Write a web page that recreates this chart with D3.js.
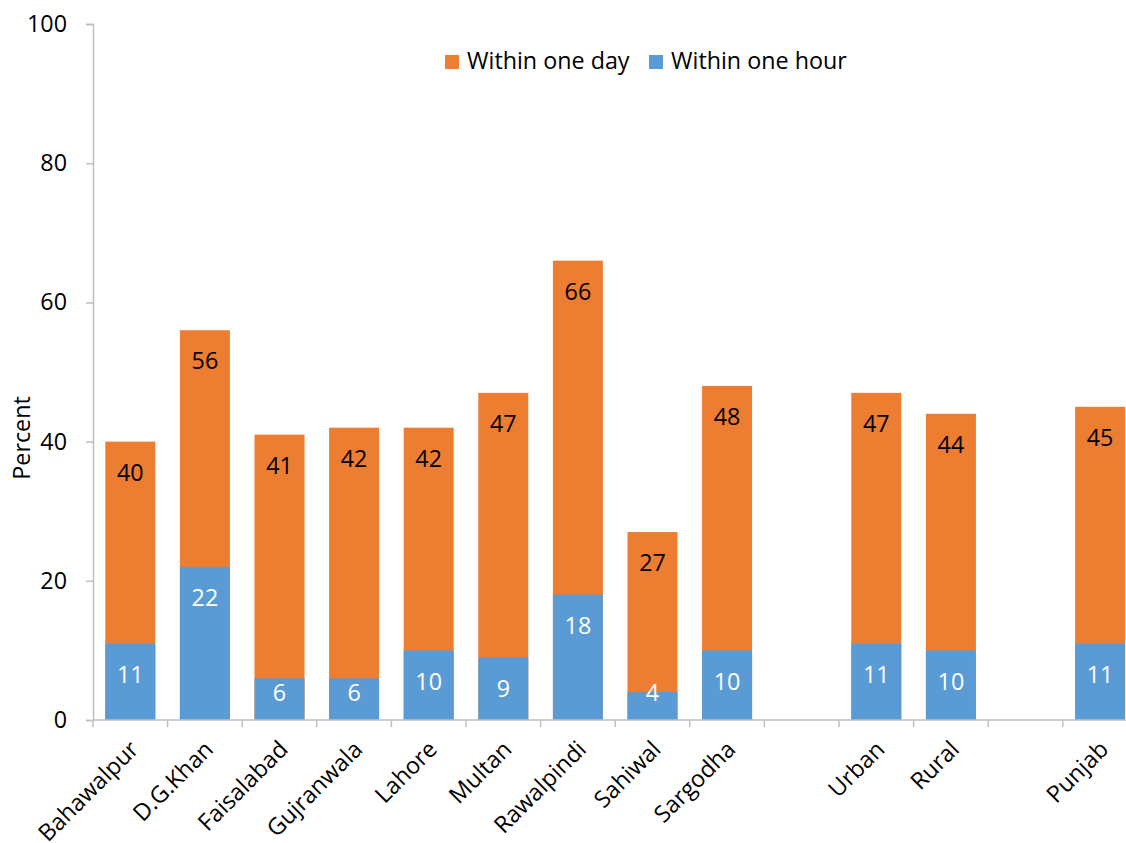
<!DOCTYPE html>
<html>
<head>
<meta charset="utf-8">
<script src="https://cdn.jsdelivr.net/npm/d3@7"></script>
<style>
  html, body { margin: 0; padding: 0; background: #fff; }
  svg { display: block; font-family: "Open Sans", Lato, sans-serif; }
</style>
</head>
<body>
<svg id="chart" width="1126" height="843"></svg>
<script>
// Districts, then Urban/Rural, then the provincial total
const categories = ["Bahawalpur", "D.G.Khan", "Faisalabad", "Gujranwala", "Lahore", "Multan",
                    "Rawalpindi", "Sahiwal", "Sargodha", "Urban", "Rural", "Punjab"];
const withinOneDay  = [40, 56, 41, 42, 42, 47, 66, 27, 48, 47, 44, 45];
const withinOneHour = [11, 22, 6, 6, 10, 9, 18, 4, 10, 11, 10, 11];
const yTicks = [0, 20, 40, 60, 80, 100];
const seriesNames = ["Within one day", "Within one hour"];
const colors = { day: "#ED7D31", hour: "#5B9BD5", axis: "#BFBFBF" };

// empty slots separate the district group, the urban/rural pair and the total
const slots = [...categories.slice(0, 9), "_gap1", "Urban", "Rural", "_gap2", "Punjab"];

const data = categories.map((c, i) => ({ name: c, day: withinOneDay[i], hour: withinOneHour[i] }));

const FONT = 23.3;
const svg = d3.select("#chart");
const margin = { left: 93, top: 24, bottom: 123 };
const plotBottom = 843 - margin.bottom;
const plotRight = margin.left + 74.6 * slots.length;

const x = d3.scaleBand().domain(slots).range([margin.left, plotRight])
  .paddingInner(0.33).paddingOuter(0.165);
const y = d3.scaleLinear().domain([0, 100]).range([plotBottom, margin.top]);

// bars: the one-day total behind, the one-hour share in front
const g = svg.append("g");
g.selectAll("rect.day").data(data).join("rect")
  .attr("class", "day")
  .attr("x", d => x(d.name)).attr("width", x.bandwidth())
  .attr("y", d => y(d.day)).attr("height", d => y(0) - y(d.day))
  .attr("fill", colors.day);
g.selectAll("rect.hour").data(data).join("rect")
  .attr("class", "hour")
  .attr("x", d => x(d.name)).attr("width", x.bandwidth())
  .attr("y", d => y(d.hour)).attr("height", d => y(0) - y(d.hour))
  .attr("fill", colors.hour);

// value labels inside the top of each bar, kept above the baseline for short bars
const labelY = v => Math.min(y(v) + 31, plotBottom - 27);
g.selectAll("text.dayLbl").data(data).join("text")
  .attr("class", "dayLbl")
  .attr("x", d => x(d.name) + x.bandwidth() / 2)
  .attr("y", d => labelY(d.day))
  .attr("dy", "0.35em")
  .attr("text-anchor", "middle")
  .attr("font-size", FONT).attr("fill", "#000")
  .text(d => d.day);
g.selectAll("text.hourLbl").data(data).join("text")
  .attr("class", "hourLbl")
  .attr("x", d => x(d.name) + x.bandwidth() / 2)
  .attr("y", d => labelY(d.hour))
  .attr("dy", "0.35em")
  .attr("text-anchor", "middle")
  .attr("font-size", FONT).attr("fill", "#fff")
  .text(d => d.hour);

// y axis
const yAxis = svg.append("g").attr("transform", `translate(${margin.left},0)`)
  .call(d3.axisLeft(y).tickValues(yTicks).tickSize(7).tickPadding(19));
yAxis.select(".domain").attr("stroke", colors.axis).attr("stroke-width", 1.5);
yAxis.selectAll(".tick line").attr("stroke", colors.axis).attr("stroke-width", 1.5);
yAxis.selectAll(".tick text").attr("font-size", FONT).attr("fill", "#000")
  .attr("font-family", "'Open Sans', sans-serif");

// x axis: baseline with ticks on the slot boundaries
const xAxisG = svg.append("g");
xAxisG.append("line")
  .attr("x1", margin.left).attr("x2", plotRight)
  .attr("y1", plotBottom).attr("y2", plotBottom)
  .attr("stroke", colors.axis).attr("stroke-width", 1.5);
const step = x.step();
xAxisG.selectAll("line.tk").data(d3.range(slots.length + 1)).join("line")
  .attr("class", "tk")
  .attr("x1", i => margin.left + i * step).attr("x2", i => margin.left + i * step)
  .attr("y1", plotBottom).attr("y2", plotBottom + 7)
  .attr("stroke", colors.axis).attr("stroke-width", 1.5);
xAxisG.selectAll("text").data(categories).join("text")
  .attr("transform", c => `translate(${x(c) + x.bandwidth() / 2 + 4},${plotBottom + 25}) rotate(-45)`)
  .attr("text-anchor", "end")
  .attr("dy", "0.35em")
  .attr("font-size", FONT).attr("fill", "#000")
  .text(c => c);

// y axis title
svg.append("text")
  .attr("transform", `translate(22,438) rotate(-90)`)
  .attr("text-anchor", "middle")
  .attr("dy", "0.35em")
  .attr("font-size", FONT).attr("fill", "#000")
  .text("Percent");

// legend
const legend = svg.append("g");
const legendItems = [
  { name: seriesNames[0], color: colors.day, x: 445 },
  { name: seriesNames[1], color: colors.hour, x: 649 }
];
legendItems.forEach(it => {
  legend.append("rect").attr("x", it.x).attr("y", 55).attr("width", 14).attr("height", 14)
    .attr("fill", it.color);
  legend.append("text").attr("x", it.x + 22).attr("y", 61).attr("dy", "0.35em")
    .attr("font-size", FONT).attr("fill", "#000").text(it.name);
});
</script>
</body>
</html>
